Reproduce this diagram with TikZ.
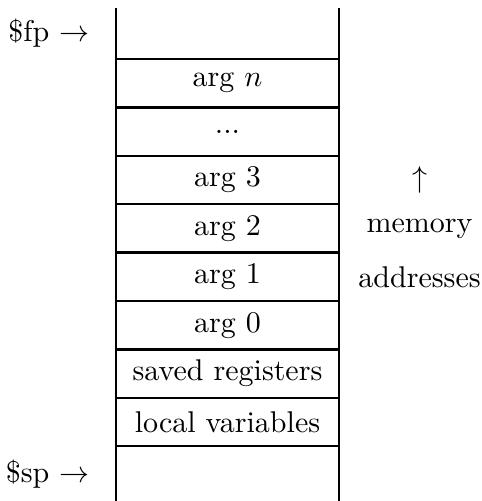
\documentclass[tikz,border=0pt]{standalone}
\usetikzlibrary{positioning}

\begin{document}
\begin{tikzpicture}[x=0.3333pt, y=-0.3333pt, node distance=0pt,
  cell/.style={draw, line width=0.8pt, minimum width=74.3pt, minimum height=16.13pt,
    inner sep=0pt, outer sep=0pt},
  open cell/.style={cell, draw=none},
  side label/.style={inner sep=0pt}]
\useasboundingbox (0,0) rectangle (482,501);

% the stack frame, top to bottom
\node[open cell, minimum height=17pt, anchor=north] (top) at (227.5,8) {};
\node[cell, below=of top] (argn) {arg $n$};
\node[cell, below=of argn] (dots) {...};
\node[cell, below=of dots] (arg3) {arg 3};
\node[cell, below=of arg3] (arg2) {arg 2};
\node[cell, below=of arg2] (arg1) {arg 1};
\node[cell, below=of arg1] (arg0) {arg 0};
\node[cell, below=of arg0] (saved) {saved registers};
\node[cell, below=of saved] (locals) {local variables};
\node[open cell, minimum height=18.33pt, below=of locals] (bottom) {};

\draw[line width=0.8pt] (top.north west) -- (bottom.south west);
\draw[line width=0.8pt] (top.north east) -- (bottom.south east);

% pointers
\node[side label, left=8.7pt of top] (fp) {\$fp $\rightarrow$};
\node[side label, left=8.7pt of bottom] (sp) {\$sp $\rightarrow$};

% direction of addresses
\node[side label, right=6.3pt of arg1] (addr) {addresses};
\node[side label] (mem) at (addr |- arg2) {memory};
\node[side label] (up) at (addr |- arg3) {$\uparrow$};
\end{tikzpicture}
\end{document}
